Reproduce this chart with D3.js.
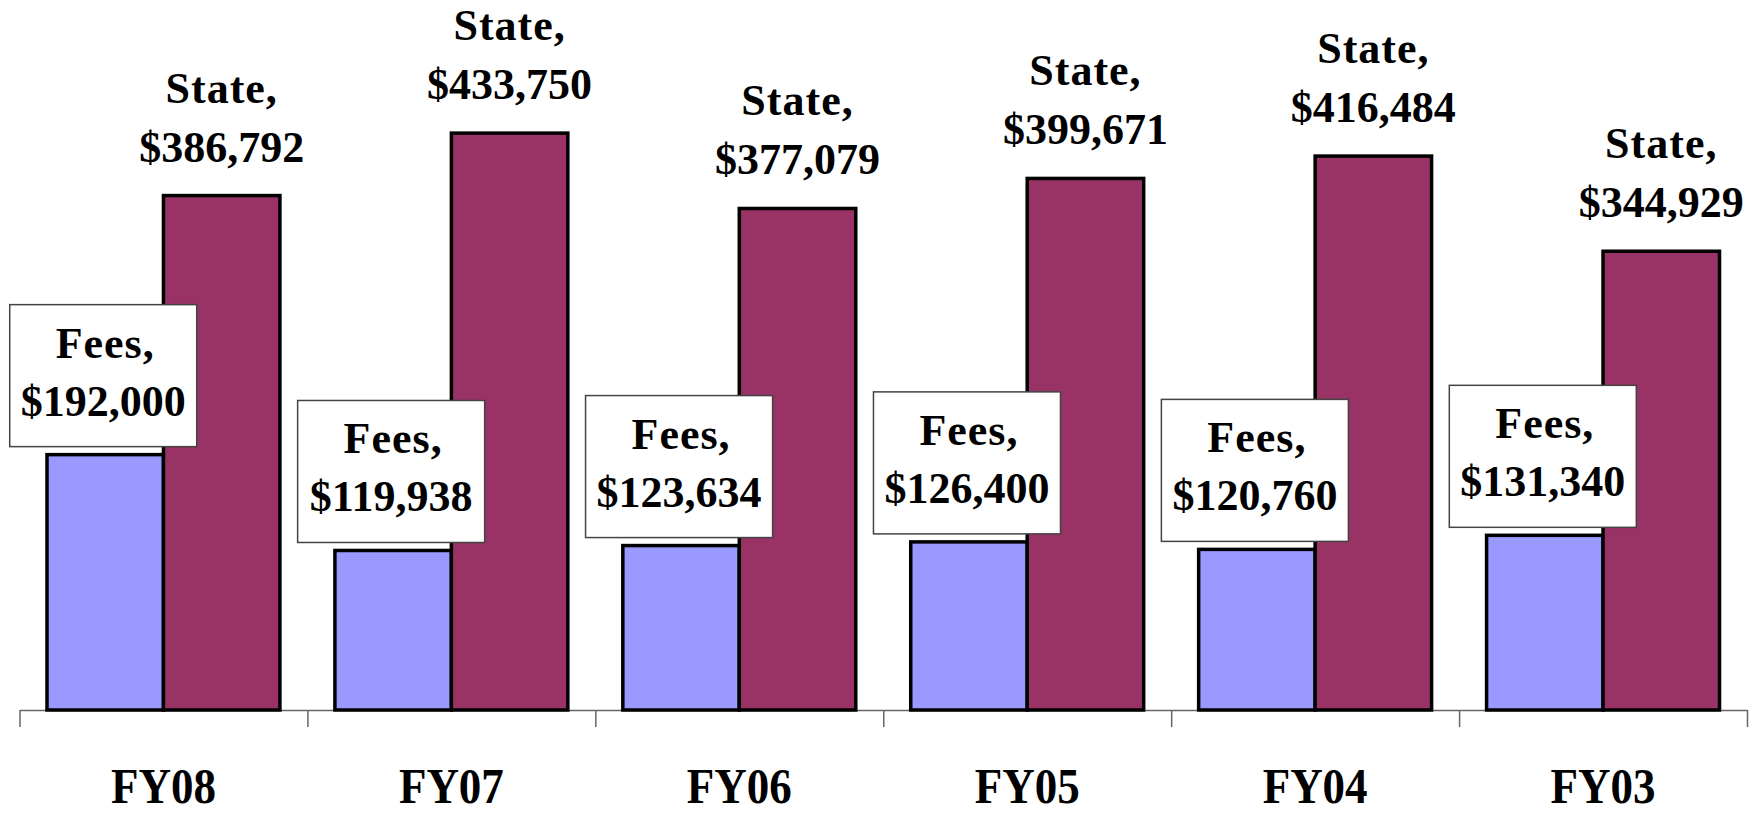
<!DOCTYPE html>
<html lang="en"><head>
<meta charset="UTF-8">
<script src="https://d3js.org/d3.v7.min.js"></script>
<title>Fees and State funding</title>
<style>
  body { margin: 0; background: #fff; }
  text { font-family: "Liberation Serif", "Times New Roman", serif; font-weight: bold; fill: #000; }
</style>
</head>
<body>
<svg id="vis" width="1753" height="814"></svg>
<script>
// data
var years = ["FY08", "FY07", "FY06", "FY05", "FY04", "FY03"];
var series = ["Fees", "State"];
var fees = [192000, 119938, 123634, 126400, 120760, 131340];
var state = [386792, 433750, 377079, 399671, 416484, 344929];

var fmt = d3.format("$,");
var colors = { Fees: "#9999ff", State: "#993366" };

var svg = d3.select("#vis");

// scales
var x0 = d3.scaleBand().domain(years).range([19.5, 1747]).paddingInner(0).paddingOuter(0);
var x1 = d3.scaleBand().domain(series).range([0, x0.bandwidth()]).paddingInner(0).paddingOuter(0.236);
var y = d3.scaleLinear().domain([0, 500000]).range([710, 45]);

// axis: ticks sit on the band boundaries
var edges = d3.scaleLinear().domain([0, years.length]).range(x0.range());
var gAxis = svg.append("g").attr("transform", "translate(0," + y(0) + ")");
gAxis.call(d3.axisBottom(edges).tickValues(d3.range(years.length + 1)).tickFormat("").tickSizeInner(17).tickSizeOuter(0));
gAxis.select(".domain").attr("stroke", "#666").attr("stroke-width", 1.5);
gAxis.selectAll(".tick line").attr("stroke", "#666").attr("stroke-width", 1.5);

// bars
var rows = years.map(function(yr, i) { return { year: yr, Fees: fees[i], State: state[i] }; });

var gBars = svg.append("g");
rows.forEach(function(r) {
  series.forEach(function(s) {
    gBars.append("rect")
      .attr("x", x0(r.year) + x1(s))
      .attr("y", y(r[s]))
      .attr("width", x1.bandwidth())
      .attr("height", y(0) - y(r[s]))
      .attr("fill", colors[s])
      .attr("stroke", "#000")
      .attr("stroke-width", 3.5);
  });
});

// state labels above the bars
var gState = svg.append("g");
rows.forEach(function(r) {
  var cx = x0(r.year) + x1("State") + x1.bandwidth() / 2;
  var top = y(r.State);
  gState.append("text").attr("x", cx).attr("y", top - 93)
    .attr("text-anchor", "middle").attr("font-size", 44).attr("letter-spacing", 1)
    .text("State,");
  gState.append("text").attr("x", cx).attr("y", top - 34)
    .attr("text-anchor", "middle").attr("font-size", 44)
    .text(fmt(r.State));
});

// fees labels in white boxes
var gFees = svg.append("g");
rows.forEach(function(r) {
  var cx = x0(r.year) + x1("Fees") + x1.bandwidth() / 2 - 2;
  var bottom = y(r.Fees) - 8;
  var boxW = 187, boxH = 142;
  var top = bottom - boxH;
  gFees.append("rect")
    .attr("x", cx - boxW / 2).attr("y", top)
    .attr("width", boxW).attr("height", boxH)
    .attr("fill", "#fff").attr("stroke", "#444").attr("stroke-width", 1.5);
  gFees.append("text").attr("x", cx + 2).attr("y", top + 53)
    .attr("text-anchor", "middle").attr("font-size", 44).attr("letter-spacing", 1)
    .text("Fees,");
  gFees.append("text").attr("x", cx).attr("y", top + 111)
    .attr("text-anchor", "middle").attr("font-size", 44)
    .text(fmt(r.Fees));
});

// category labels
var gCat = svg.append("g");
years.forEach(function(yr) {
  var cx = x0(yr) + x0.bandwidth() / 2;
  gCat.append("text")
    .attr("transform", "translate(" + cx + ",803) scale(0.9,1)")
    .attr("text-anchor", "middle").attr("font-size", 50)
    .text(yr);
});
</script>
</body></html>
